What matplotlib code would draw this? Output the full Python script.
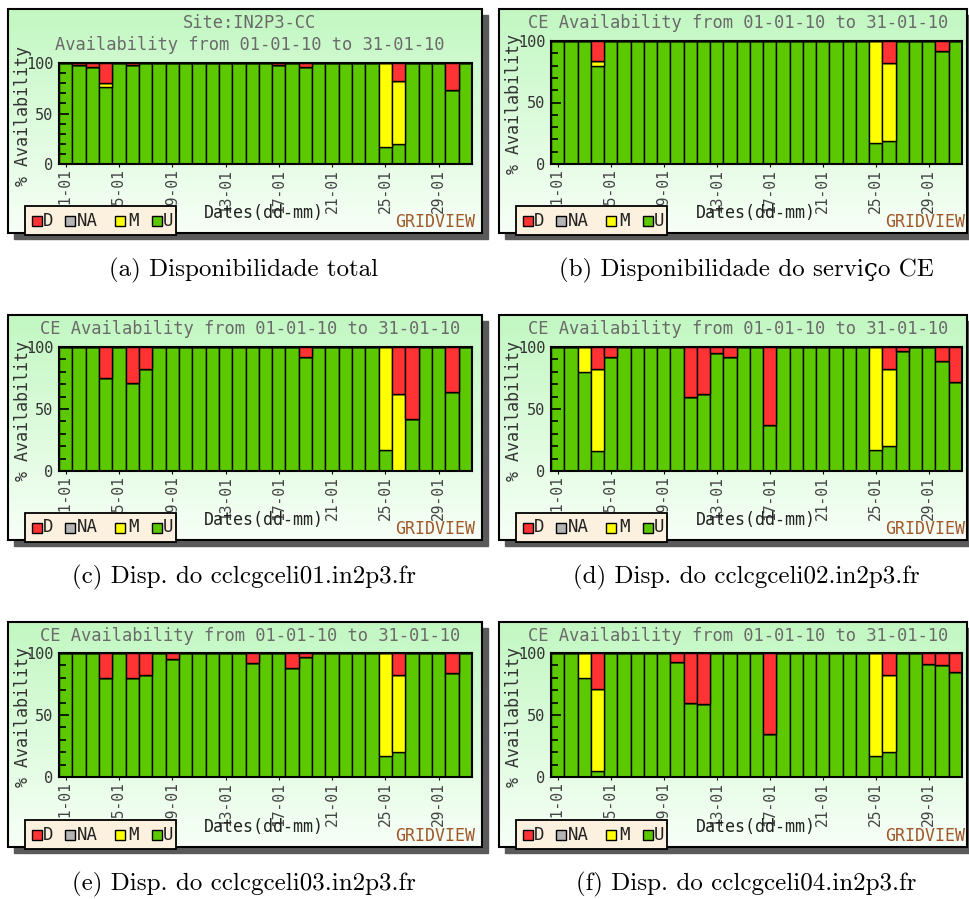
import numpy as np
import matplotlib
matplotlib.use('Agg')
import matplotlib.pyplot as plt
from matplotlib.patches import Rectangle

W, H = 969, 899

# days of January 2010
days = np.arange(1, 32)
tick_days = [1, 5, 9, 13, 17, 21, 25, 29]
tick_labels = ['01-01', '05-01', '09-01', '13-01', '17-01', '21-01', '25-01', '29-01']
Z10 = [0] * 10

# (a) site IN2P3-CC
site_U = [100, 98.5, 96, 76, 100, 98, 100, 100, 100, 100,
          100, 100, 100, 100, 100, 100, 98, 100, 96, 100,
          100, 100, 100, 100, 17, 20, 100, 100, 100, 73, 100]
site_M = [0, 0, 0, 4, 0, 0, 0, 0, 0, 0] + Z10 + [0, 0, 0, 0, 83, 62, 0, 0, 0, 0, 0]
site_D = [0, 1.5, 4, 20, 0, 2, 0, 0, 0, 0,
          0, 0, 0, 0, 0, 0, 2, 0, 4, 0,
          0, 0, 0, 0, 0, 18, 0, 0, 0, 27, 0]

# (b) CE service
ce_U = [100, 100, 100, 80, 100, 100, 100, 100, 100, 100,
        100, 100, 100, 100, 100, 100, 100, 100, 100, 100,
        100, 100, 100, 100, 17, 19, 100, 100, 100, 92, 100]
ce_M = [0, 0, 0, 4, 0, 0, 0, 0, 0, 0] + Z10 + [0, 0, 0, 0, 83, 63, 0, 0, 0, 0, 0]
ce_D = [0, 0, 0, 16, 0, 0, 0, 0, 0, 0] + Z10 + [0, 0, 0, 0, 0, 18, 0, 0, 0, 8, 0]

# (c) cclcgceli01
c1_U = [100, 100, 100, 75, 100, 71, 82, 100, 100, 100,
        100, 100, 100, 100, 100, 100, 100, 100, 92, 100,
        100, 100, 100, 100, 17, 0, 42, 100, 100, 64, 100]
c1_M = Z10 + Z10 + [0, 0, 0, 0, 83, 62, 0, 0, 0, 0, 0]
c1_D = [0, 0, 0, 25, 0, 29, 18, 0, 0, 0,
        0, 0, 0, 0, 0, 0, 0, 0, 8, 0,
        0, 0, 0, 0, 0, 38, 58, 0, 0, 36, 0]

# (d) cclcgceli02
c2_U = [100, 100, 80, 16, 92, 100, 100, 100, 100, 100,
        60, 62, 95, 92, 100, 100, 37, 100, 100, 100,
        100, 100, 100, 100, 17, 20, 97, 100, 100, 89, 72]
c2_M = [0, 0, 20, 66, 0, 0, 0, 0, 0, 0] + Z10 + [0, 0, 0, 0, 83, 62, 0, 0, 0, 0, 0]
c2_D = [0, 0, 0, 18, 8, 0, 0, 0, 0, 0,
        40, 38, 5, 8, 0, 0, 63, 0, 0, 0,
        0, 0, 0, 0, 0, 18, 3, 0, 0, 11, 28]

# (e) cclcgceli03
c3_U = [100, 100, 100, 80, 100, 80, 82, 100, 95, 100,
        100, 100, 100, 100, 92, 100, 100, 88, 97, 100,
        100, 100, 100, 100, 17, 20, 100, 100, 100, 84, 100]
c3_M = Z10 + Z10 + [0, 0, 0, 0, 83, 62, 0, 0, 0, 0, 0]
c3_D = [0, 0, 0, 20, 0, 20, 18, 0, 5, 0,
        0, 0, 0, 0, 8, 0, 0, 12, 3, 0,
        0, 0, 0, 0, 0, 18, 0, 0, 0, 16, 0]

# (f) cclcgceli04
c4_U = [100, 100, 80, 5, 100, 100, 100, 100, 100, 93,
        60, 59, 100, 100, 100, 100, 35, 100, 100, 100,
        100, 100, 100, 100, 17, 20, 100, 100, 91, 90, 85]
c4_M = [0, 0, 20, 66, 0, 0, 0, 0, 0, 0] + Z10 + [0, 0, 0, 0, 83, 62, 0, 0, 0, 0, 0]
c4_D = [0, 0, 0, 29, 0, 0, 0, 0, 0, 7,
        40, 41, 0, 0, 0, 0, 65, 0, 0, 0,
        0, 0, 0, 0, 0, 18, 0, 0, 9, 10, 15]

NA = [0] * 31

ce_title = 'CE Availability from 01-01-10 to 31-01-10'
panels = [
    (['Site:IN2P3-CC', 'Availability from 01-01-10 to 31-01-10'], site_U, site_M, site_D,
     (8, 9, 482, 233), (59, 63, 472, 164), '(a) Disponibilidade total', 244),
    ([ce_title], ce_U, ce_M, ce_D,
     (499, 9, 967, 233), (551, 41, 962, 164), '(b) Disponibilidade do serviço CE', 746),
    ([ce_title], c1_U, c1_M, c1_D,
     (8, 315, 482, 540), (59, 347, 472, 471), '(c) Disp. do cclcgceli01.in2p3.fr', 244),
    ([ce_title], c2_U, c2_M, c2_D,
     (499, 315, 967, 540), (551, 347, 962, 471), '(d) Disp. do cclcgceli02.in2p3.fr', 746),
    ([ce_title], c3_U, c3_M, c3_D,
     (8, 622, 482, 847), (59, 653, 472, 777), '(e) Disp. do cclcgceli03.in2p3.fr', 244),
    ([ce_title], c4_U, c4_M, c4_D,
     (499, 622, 967, 847), (551, 653, 962, 777), '(f) Disp. do cclcgceli04.in2p3.fr', 746),
]
caption_y = [270, 270, 577, 577, 884, 884]

col_D, col_NA, col_M, col_U = '#ff3333', '#b4b4b4', '#ffff00', '#5cc800'
mono = 'DejaVu Sans Mono'

fig = plt.figure(figsize=(W / 100, H / 100), dpi=100)
fig.patch.set_facecolor('white')

bg = fig.add_axes([0, 0, 1, 1], zorder=0)
fg = fig.add_axes([0, 0, 1, 1], zorder=20)
fg.patch.set_alpha(0)

grad = np.linspace(0, 1, 200)[:, None, None]
top_c = np.array([0.76, 0.97, 0.76])
bot_c = np.array([0.97, 1.0, 0.97])
grad_img = top_c * (1 - grad) + bot_c * grad

for i, (title, U, M, D, box, prc, caption, cap_x) in enumerate(panels):
    x0, y0, x1, y1 = box
    # shadow, gradient background and frame
    bg.add_patch(Rectangle((x0 + 6, y0 + 6), x1 - x0, y1 - y0, color='#5a5a5a', zorder=1))
    bg.imshow(grad_img, extent=[x0, x1, y1, y0], aspect='auto', zorder=2)
    bg.add_patch(Rectangle((x0, y0), x1 - x0, y1 - y0, fill=False, ec='black', lw=1.5, zorder=3))

    px0, py0, px1, py1 = prc
    ax = fig.add_axes([px0 / W, 1 - py1 / H, (px1 - px0) / W, (py1 - py0) / H], zorder=5)
    U = np.array(U, float)
    M = np.array(M, float)
    D = np.array(D, float)
    na = np.array(NA, float)
    kw = dict(width=1.0, edgecolor='black', linewidth=1.0)
    ax.bar(days, U, color=col_U, **kw)
    ax.bar(days, M, bottom=U, color=col_M, **kw)
    ax.bar(days, na, bottom=U + M, color=col_NA, **kw)
    ax.bar(days, D, bottom=U + M + na, color=col_D, **kw)
    ax.set_xlim(0.5, 31.5)
    ax.set_ylim(0, 100)
    ax.set_yticks([0, 50, 100])
    ax.set_yticks(range(0, 101, 10), minor=True)
    ax.tick_params(axis='y', which='major', direction='in', length=7, width=1.2,
                   labelsize=11, labelcolor='#333333', pad=4)
    ax.tick_params(axis='y', which='minor', direction='in', length=5, width=1.2)
    ax.set_xticks(tick_days)
    ax.set_xticklabels(tick_labels, rotation=90, family=mono, fontsize=10.5, color='#444444')
    ax.tick_params(axis='x', length=2, pad=2)
    for lab in ax.get_yticklabels():
        lab.set_family(mono)
    for sp in ax.spines.values():
        sp.set_linewidth(1.5)
        sp.set_color('black')

    # texts of the gridview image
    tx = (x0 + x1) / 2 + 5
    for k, line in enumerate(title):
        fg.text(tx, y0 + 14 + 22 * k, line, family=mono, fontsize=12.3, color='#6a6a6a',
                ha='center', va='center')
    fg.text(x0 + 15, (py0 + py1) / 2 + 2, '% Availability', family=mono, fontsize=12,
            color='#333333', rotation=90, ha='center', va='center')
    fg.text(px0 + 205, y1 - 20, 'Dates(dd-mm)', family=mono, fontsize=12, color='#222222',
            ha='center', va='center')
    fg.text(px1 + 3, y1 - 11, 'GRIDVIEW', family=mono, fontsize=12, color='#a0582a',
            ha='right', va='center')

    # legend box
    lx0, ly0, lx1, ly1 = x0 + 17, y1 - 27, x0 + 168, y1 + 2
    fg.add_patch(Rectangle((lx0, ly0), lx1 - lx0, ly1 - ly0, fc='#fcf1de', ec='black', lw=1.3))
    ly = (ly0 + ly1) / 2
    for sq, tpos, name, c in [(7, 18, 'D', col_D), (40, 52, 'NA', col_NA),
                              (90, 103, 'M', col_M), (127, 138, 'U', col_U)]:
        fg.add_patch(Rectangle((lx0 + sq, ly - 5), 10, 10, fc=c, ec='black', lw=1.0))
        fg.text(lx0 + tpos, ly, name, family=mono, fontsize=12.5, color='#222222',
                ha='left', va='center')

    fig.text(cap_x / W, 1 - caption_y[i] / H, caption, family=['cmr10', 'DejaVu Serif'],
             fontsize=18, ha='center', va='center')

for a in (bg, fg):
    a.set_xlim(0, W)
    a.set_ylim(H, 0)
    a.axis('off')

fig.savefig('out.png', dpi=100)
